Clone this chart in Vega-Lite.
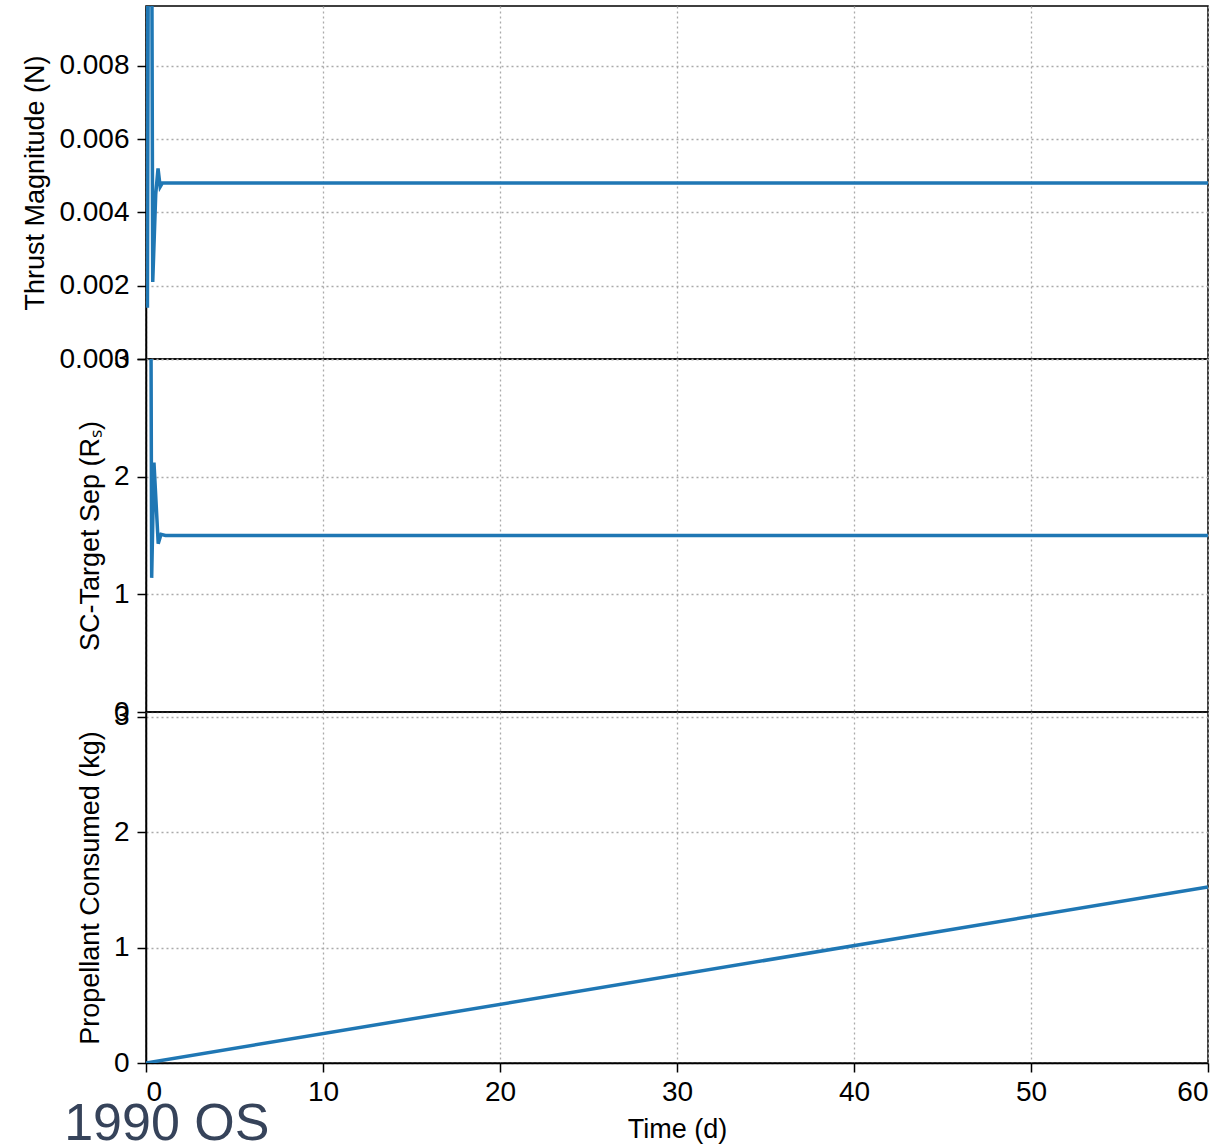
{
  "$schema": "https://vega.github.io/schema/vega-lite/v6.json",
  "padding": {"left": 21, "top": 5, "right": 20, "bottom": 0},
  "spacing": 0,
  "bounds": "flush",
  "config": {
    "font": "Liberation Sans",
    "view": {"stroke": "black", "strokeWidth": 1.5},
    "axis": {
      "labelFont": "Liberation Sans", "labelFontSize": 28, "labelColor": "black",
      "titleFont": "Liberation Sans", "titleFontSize": 27, "titleFontWeight": "normal", "titleColor": "black",
      "tickColor": "black", "tickSize": 9, "tickWidth": 1.5, "labelPadding": 8,
      "domainColor": "black", "domainWidth": 1.5,
      "grid": true, "gridColor": "#aaaaaa", "gridDash": [2, 3], "gridWidth": 1.3
    }
  },
  "title": {"text": "1990 OS", "orient": "bottom", "anchor": "start", "fontSize": 52, "font": "Liberation Sans", "fontWeight": "normal", "color": "#36435a", "offset": -44, "dx": 43},
  "datasets": {
    "thrust": [
      {"t": 0, "v": 0.03},
      {"t": 0.08, "v": 0.0014},
      {"t": 0.22, "v": 0.03},
      {"t": 0.38, "v": 0.0021},
      {"t": 0.55, "v": 0.0045},
      {"t": 0.68, "v": 0.0052},
      {"t": 0.8, "v": 0.0047},
      {"t": 0.92, "v": 0.0048},
      {"t": 60, "v": 0.0048}
    ],
    "sep": [
      {"t": 0, "v": 20},
      {"t": 0.25, "v": 5},
      {"t": 0.32, "v": 1.14},
      {"t": 0.45, "v": 2.12},
      {"t": 0.69, "v": 1.43},
      {"t": 0.85, "v": 1.51},
      {"t": 1.1, "v": 1.5},
      {"t": 60, "v": 1.5}
    ],
    "prop": [
      {"t": 0, "v": 0},
      {"t": 60, "v": 1.525}
    ]
  },
  "vconcat": [
    {
      "width": 1062, "height": 353,
      "data": {"name": "thrust"},
      "mark": {"type": "line", "color": "#1f77b4", "strokeWidth": 3.5, "clip": true},
      "encoding": {
        "x": {"field": "t", "type": "quantitative", "scale": {"domain": [0, 60], "nice": false},
              "axis": {"values": [0, 10, 20, 30, 40, 50, 60], "labels": false, "ticks": false, "domain": false, "title": null}},
        "y": {"field": "v", "type": "quantitative", "scale": {"domain": [0, 0.00963], "nice": false, "zero": false},
              "axis": {"values": [0, 0.002, 0.004, 0.006, 0.008], "format": ".3f", "title": "Thrust Magnitude (N)", "titlePadding": 9}}
      }
    },
    {
      "width": 1062, "height": 353,
      "data": {"name": "sep"},
      "mark": {"type": "line", "color": "#1f77b4", "strokeWidth": 3.5, "clip": true},
      "encoding": {
        "x": {"field": "t", "type": "quantitative", "scale": {"domain": [0, 60], "nice": false},
              "axis": {"values": [0, 10, 20, 30, 40, 50, 60], "labels": false, "ticks": false, "domain": false, "title": null}},
        "y": {"field": "v", "type": "quantitative", "scale": {"domain": [0, 3], "nice": false, "zero": false},
              "axis": {"values": [0, 1, 2, 3], "title": "SC-Target Sep (Rₛ)", "titlePadding": 9}}
      }
    },
    {
      "width": 1062, "height": 351,
      "data": {"name": "prop"},
      "mark": {"type": "line", "color": "#1f77b4", "strokeWidth": 3.5, "clip": true},
      "encoding": {
        "x": {"field": "t", "type": "quantitative", "scale": {"domain": [0, 60], "nice": false},
              "axis": {"values": [0, 10, 20, 30, 40, 50, 60], "title": "Time (d)", "titlePadding": 10, "labelPadding": 6}},
        "y": {"field": "v", "type": "quantitative", "scale": {"domain": [0, 3.04], "nice": false, "zero": false},
              "axis": {"values": [0, 1, 2, 3], "title": "Propellant Consumed (kg)", "titlePadding": 9}}
      }
    }
  ]
}
